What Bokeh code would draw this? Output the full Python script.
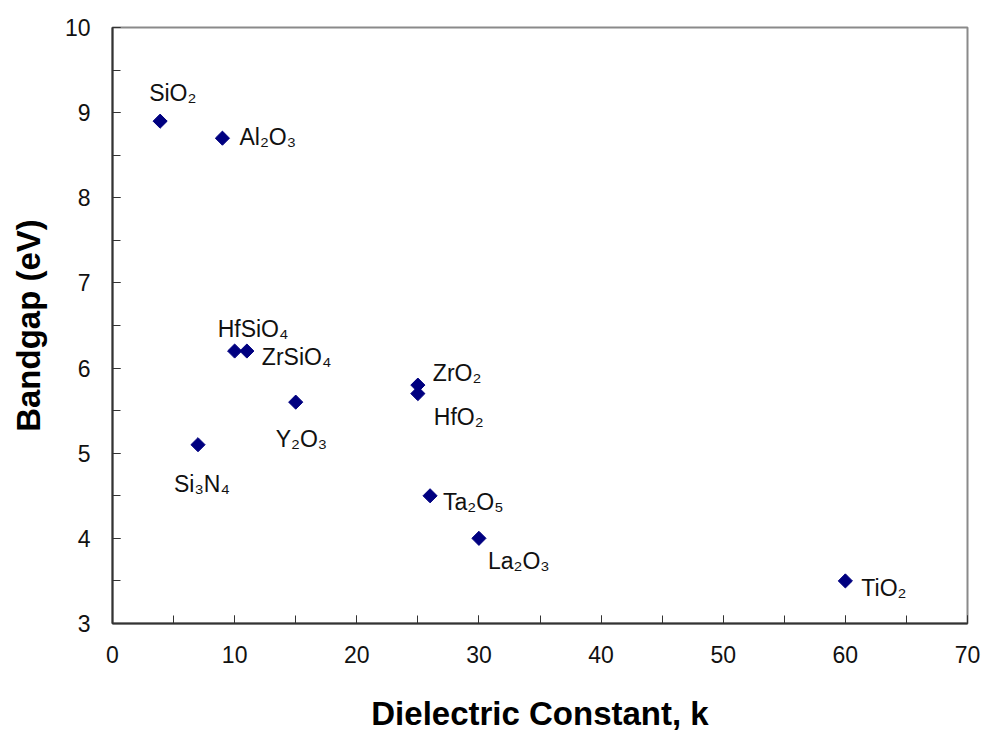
from bokeh.plotting import figure
from bokeh.models import ColumnDataSource, Range1d, SingleIntervalTicker
from bokeh.core.properties import value
from bokeh.embed import file_html
from bokeh.resources import INLINE
import math

# ---- data ----
materials = ["SiO₂", "Al₂O₃", "HfSiO₄", "ZrSiO₄", "Y₂O₃", "Si₃N₄",
             "ZrO₂", "HfO₂", "Ta₂O₅", "La₂O₃", "TiO₂"]
dielectric_k = [3.9, 9, 10, 11, 15, 7, 25, 25, 26, 30, 60]
bandgap_ev = [8.9, 8.7, 6.2, 6.2, 5.6, 5.1, 5.8, 5.7, 4.5, 4.0, 3.5]

# label placement (screen-pixel offsets from each point)
label_dx = [-11, 17, -17, 15, -20, -24, 15, 16, 13, 9, 16]
label_dy = [-28, -1, -22, 6, 37, 39, -12, 23, 6, 23, 7]

FONT = "Liberation Sans"

src = ColumnDataSource(dict(k=dielectric_k, eg=bandgap_ev, name=materials,
                            dx=label_dx, dy=label_dy))

p = figure(width=984, height=734, output_backend="svg", toolbar_location=None,
           x_range=Range1d(0, 70), y_range=Range1d(3, 10),
           min_border_left=112, min_border_right=17,
           min_border_top=27, min_border_bottom=111)

p.background_fill_color = "white"
p.border_fill_color = "white"
p.outline_line_color = "#8a8a8a"
p.outline_line_width = 2
p.xgrid.visible = False
p.ygrid.visible = False

p.xaxis.ticker = SingleIntervalTicker(interval=10, num_minor_ticks=2)
p.yaxis.ticker = SingleIntervalTicker(interval=1, num_minor_ticks=2)

for ax in (p.xaxis[0], p.yaxis[0]):
    ax.axis_line_color = "#333333"
    ax.axis_line_width = 2
    ax.major_tick_line_color = "#333333"
    ax.minor_tick_line_color = "#333333"
    ax.major_tick_line_width = 1
    ax.minor_tick_line_width = 1
    ax.major_tick_in = 8
    ax.major_tick_out = 0
    ax.minor_tick_in = 8
    ax.minor_tick_out = 0
    ax.major_label_text_font = FONT
    ax.major_label_text_font_size = "23px"
    ax.major_label_text_color = "#111111"
    ax.axis_label_text_font = FONT
    ax.axis_label_text_font_size = "33px"
    ax.axis_label_text_font_style = "bold"
    ax.axis_label_text_color = "#000000"

p.xaxis.axis_label = "Dielectric Constant, k"
p.yaxis.axis_label = "Bandgap (eV)"
p.xaxis.major_label_standoff = 22
p.yaxis.major_label_standoff = 22
p.xaxis.axis_label_standoff = 29
p.yaxis.axis_label_standoff = 15

p.scatter("k", "eg", source=src, marker="square", size=10, angle=math.pi / 4,
          fill_color="#000080", line_color="#000080")

p.text("k", "eg", text="name", source=src, x_offset="dx", y_offset="dy",
       text_font=value(FONT), text_font_size="23px", text_color="#111111",
       text_align="left", text_baseline="alphabetic")

open("out.html", "w").write(file_html(p, INLINE))
